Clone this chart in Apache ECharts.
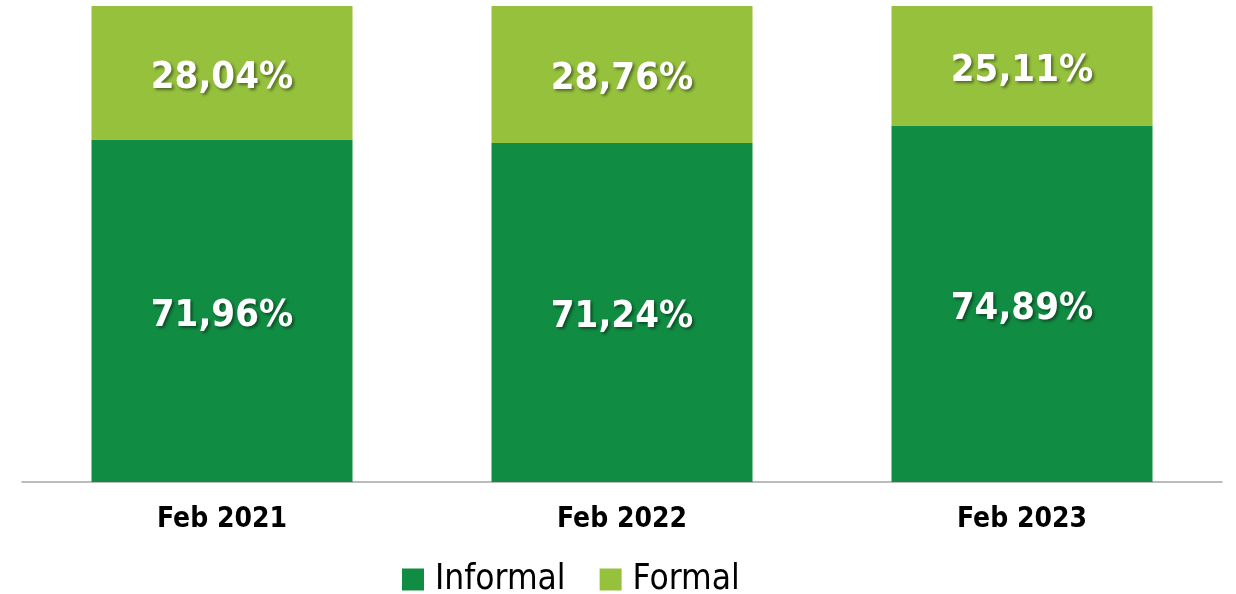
<!DOCTYPE html>
<html>
<head>
<meta charset="utf-8">
<script src="https://cdn.jsdelivr.net/npm/echarts@6/dist/echarts.min.js"></script>
<style>
  html, body { margin: 0; padding: 0; background: #fff; }
  #chart { width: 1236px; height: 594px; }
</style>
</head>
<body>
<div id="chart"></div>
<script>
const categories = ['Feb 2021', 'Feb 2022', 'Feb 2023']
const informal = [71.96, 71.24, 74.89]
const formal = [28.04, 28.76, 25.11]

const FONT = '"Liberation Sans Narrow", "DejaVu Sans Condensed", "Roboto Condensed", sans-serif'

const chart = echarts.init(document.getElementById('chart'))

const labelStyle = {
  show: true,
  position: 'inside',
  offset: [0, 5],
  color: '#fff',
  fontFamily: FONT,
  fontWeight: 'bold',
  fontSize: 38,
  textShadowColor: 'rgba(0,0,0,0.45)',
  textShadowBlur: 3,
  textShadowOffsetX: 2,
  textShadowOffsetY: 2,
  formatter: (p) => p.value.toFixed(2).replace('.', ',') + '%',
}

chart.setOption({
  animation: false,
  grid: { left: 22, right: 14, top: 6, bottom: 112 },
  legend: {
    bottom: -8,
    left: 397,
    icon: 'rect',
    itemWidth: 22,
    itemHeight: 22,
    itemGap: 34,
    textStyle: { fontFamily: FONT, fontSize: 35, color: '#000', padding: [0, 0, 0, 6] },
    data: ['Informal', 'Formal'],
  },
  xAxis: {
    type: 'category',
    data: categories,
    axisLine: { lineStyle: { color: '#a6a6a6', width: 1.5 } },
    axisTick: { show: false },
    axisLabel: { margin: 24, color: '#000', fontFamily: FONT, fontWeight: 'bold', fontSize: 28 },
  },
  yAxis: {
    type: 'value',
    min: 0,
    max: 100,
    show: false,
  },
  series: [
    {
      name: 'Informal',
      type: 'bar',
      stack: 'total',
      barWidth: 261,
      data: informal,
      itemStyle: { color: '#118c43' },
      label: labelStyle,
    },
    {
      name: 'Formal',
      type: 'bar',
      stack: 'total',
      barWidth: 261,
      data: formal,
      itemStyle: { color: '#95c13d' },
      label: labelStyle,
    },
  ],
})
</script>
</body>
</html>
